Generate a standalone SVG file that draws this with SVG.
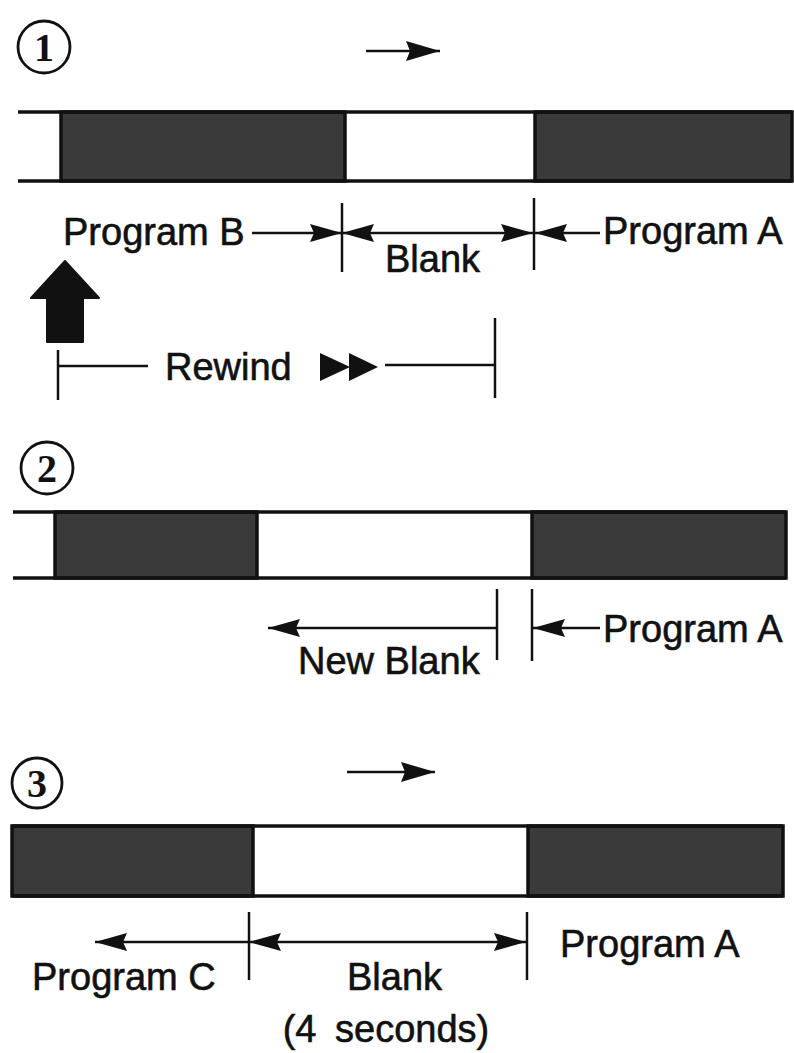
<svg xmlns="http://www.w3.org/2000/svg" width="794" height="1053" viewBox="0 0 794 1053">
<style>
.t{font-family:"Liberation Sans",Arial,sans-serif;font-size:38px;fill:#111;stroke:#111;stroke-width:0.6}
.n{font-family:"Liberation Serif","Times New Roman",serif;font-size:40px;font-weight:bold;fill:#111;text-anchor:middle}
.ln{stroke:#111;stroke-width:2.5;fill:none}
.tape{stroke:#111;stroke-width:3.5;fill:none}
.dark{fill:#3a3a3a;stroke:#111;stroke-width:3.5}
.tick{stroke:#111;stroke-width:2.5}
.c{fill:none;stroke:#111;stroke-width:2.8}
</style>
<defs>
<marker id="ah" markerUnits="userSpaceOnUse" viewBox="0 0 32 18" markerWidth="32" markerHeight="18" refX="32" refY="9" orient="auto-start-reverse">
<path d="M0,0 L32,9 L0,18 L4,9 z" fill="#111"/>
</marker>
<marker id="ahb" markerUnits="userSpaceOnUse" viewBox="0 0 34 20" markerWidth="34" markerHeight="20" refX="34" refY="10" orient="auto">
<path d="M0,0 L34,10 L0,20 L4,10 z" fill="#111"/>
</marker>
</defs>

<g id="step1">
<circle class="c" cx="44" cy="47" r="26"/>
<text class="n" x="44" y="61">1</text>
<line class="ln" x1="366" y1="51" x2="440" y2="51" marker-end="url(#ahb)"/>
<rect class="dark" x="61" y="112" width="284" height="69"/>
<rect class="dark" x="535" y="112" width="257" height="69"/>
<line class="tape" x1="18" y1="112" x2="792" y2="112"/>
<line class="tape" x1="18" y1="181" x2="792" y2="181"/>
<text class="t" x="63" y="245">Program B</text>
<text class="t" x="385" y="272">Blank</text>
<text class="t" x="603" y="244">Program A</text>
<polygon points="65,261 99,298 83,298 83,342 47,342 47,298 31,298" fill="#111" stroke="#111" stroke-width="2" stroke-linejoin="round"/>
<text class="t" x="165" y="380">Rewind</text>
<polygon points="320,353 350,367 320,381" fill="#111"/>
<polygon points="349,353 378,367 349,381" fill="#111"/>
</g>

<g id="step2">
<circle class="c" cx="47" cy="468" r="26"/>
<text class="n" x="47" y="482">2</text>
<rect class="dark" x="55" y="512" width="202" height="66"/>
<rect class="dark" x="532" y="512" width="254" height="66"/>
<line class="tape" x1="13" y1="512" x2="786" y2="512"/>
<line class="tape" x1="13" y1="578" x2="786" y2="578"/>
<text class="t" x="298" y="674">New Blank</text>
<text class="t" x="603" y="642">Program A</text>
</g>

<g id="step3">
<circle class="c" cx="37" cy="783" r="25"/>
<text class="n" x="37" y="797">3</text>
<line class="ln" x1="347" y1="772" x2="435" y2="772" marker-end="url(#ahb)"/>
<rect class="dark" x="12" y="826" width="241" height="70"/>
<rect class="dark" x="528" y="826" width="255" height="70"/>
<line class="tape" x1="12" y1="826" x2="783" y2="826"/>
<line class="tape" x1="12" y1="896" x2="783" y2="896"/>
<text class="t" x="32" y="990">Program C</text>
<text class="t" x="347" y="990">Blank</text>
<text class="t" x="386" y="1042" text-anchor="middle" word-spacing="8">(4 seconds)</text>
<text class="t" x="560" y="957">Program A</text>
</g>

<g id="connectors">
<line class="ln" x1="252" y1="233" x2="342" y2="233" marker-end="url(#ah)"/>
<line class="ln" x1="342" y1="233" x2="533" y2="233" marker-start="url(#ah)" marker-end="url(#ah)"/>
<line class="ln" x1="600" y1="233" x2="535" y2="233" marker-end="url(#ah)"/>
<line class="tick" x1="342" y1="203" x2="342" y2="272"/>
<line class="tick" x1="534" y1="198" x2="534" y2="270"/>
<line class="tick" x1="58" y1="350" x2="58" y2="400"/>
<line class="ln" x1="58" y1="366" x2="148" y2="366"/>
<line class="ln" x1="385" y1="365" x2="495" y2="365"/>
<line class="tick" x1="495" y1="318" x2="495" y2="398"/>

<line class="ln" x1="497" y1="628" x2="268" y2="628" marker-end="url(#ah)"/>
<line class="tick" x1="497" y1="589" x2="497" y2="660"/>
<line class="tick" x1="532" y1="589" x2="532" y2="661"/>
<line class="ln" x1="600" y1="628" x2="533" y2="628" marker-end="url(#ah)"/>

<line class="ln" x1="249" y1="942" x2="95" y2="942" marker-end="url(#ah)"/>
<line class="ln" x1="249" y1="942" x2="526" y2="942" marker-start="url(#ah)" marker-end="url(#ah)"/>
<line class="tick" x1="249" y1="912" x2="249" y2="980"/>
<line class="tick" x1="527" y1="912" x2="527" y2="980"/>
</g>
</svg>
